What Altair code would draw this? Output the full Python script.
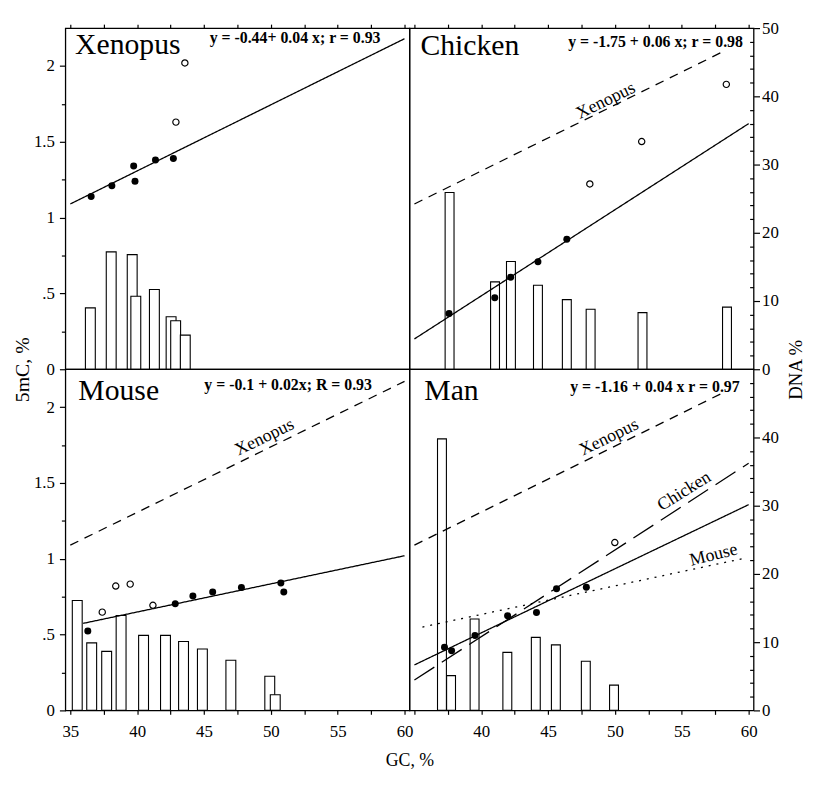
import altair as alt
import pandas as pd

FONT = "Liberation Serif"
W, H = 348, 345

# ---------------- data ----------------
GC_TICKS = [35, 37.5, 40, 42.5, 45, 47.5, 50, 52.5, 55, 57.5, 60]
MC_TICKS = [0, 0.25, 0.5, 0.75, 1, 1.25, 1.5, 1.75, 2]
DNA_TICKS_TOP = list(range(0, 51, 2))
DNA_TICKS_BOTTOM = list(range(0, 49, 2))

PANEL_NAMES = ["Xenopus", "Chicken", "Mouse", "Man"]
EQUATIONS = ["y = -0.44+ 0.04 x; r = 0.93",
             "y = -1.75 + 0.06 x; r = 0.98",
             "y = -0.1 + 0.02x; R = 0.93",
             "y = -1.16 + 0.04 x r = 0.97"]
TITLE_GC = [35.36, 35.45, 35.6, 35.74]
TITLE_Y = [2.08, 2.07, 2.05, 2.05]
EQ_GC = [58.2, 59.57, 57.56, 59.33]
EQ_Y = [2.15, 2.127, 2.113, 2.10]

# Xenopus
XEN_BAR_GC = [36.5, 38.06, 39.63, 39.9, 41.29, 42.54, 42.88, 43.6]
XEN_BAR_DNA = [9.0, 17.2, 16.8, 10.7, 11.7, 7.7, 7.1, 5.0]
XEN_FILL_GC = [36.56, 38.11, 39.74, 39.84, 41.37, 42.71]
XEN_FILL_MC = [1.14, 1.21, 1.34, 1.24, 1.38, 1.39]
XEN_OPEN_GC = [43.57, 42.90]
XEN_OPEN_MC = [2.02, 1.63]
XEN_FIT_GC = [35, 60]
XEN_FIT_MC = [1.09, 2.18]

# Chicken
CHI_BAR_GC = [37.63, 41.03, 42.22, 44.24, 46.4, 48.18, 52.06, 58.38]
CHI_BAR_DNA = [25.9, 12.8, 15.8, 12.3, 10.2, 8.8, 8.3, 9.1]
CHI_FILL_GC = [37.59, 41.01, 42.2, 44.24, 46.4]
CHI_FILL_MC = [0.367, 0.472, 0.607, 0.709, 0.857]
CHI_OPEN_GC = [48.12, 52.0, 58.33]
CHI_OPEN_MC = [1.222, 1.502, 1.879]
CHI_FIT_GC = [35, 60]
CHI_FIT_MC = [0.20, 1.62]
CHI_XEN_GC = [35, 58.2]
CHI_XEN_MC = [1.09, 2.10]

# Mouse
MOU_BAR_GC = [35.52, 36.6, 37.72, 38.8, 40.48, 42.12, 43.47, 44.88, 47.01, 49.92, 50.33]
MOU_BAR_DNA = [16.1, 9.9, 8.65, 13.9, 11.0, 11.0, 10.1, 9.0, 7.35, 5.0, 2.3]
MOU_FILL_GC = [36.31, 42.85, 44.17, 45.65, 47.8, 50.75, 50.97]
MOU_FILL_MC = [0.524, 0.704, 0.755, 0.781, 0.811, 0.841, 0.781]
MOU_OPEN_GC = [37.39, 38.4, 39.48, 41.18]
MOU_OPEN_MC = [0.648, 0.820, 0.833, 0.693]
MOU_FIT_GC = [35.96, 60]
MOU_FIT_MC = [0.574, 1.02]
MOU_XEN_GC = [35, 60]
MOU_XEN_MC = [1.09, 2.17]

# Man
MAN_BAR_GC = [37.06, 37.74, 39.5, 41.95, 44.08, 45.58, 47.82, 49.93]
MAN_BAR_DNA = [39.8, 5.1, 13.4, 8.5, 10.7, 9.6, 7.2, 3.7]
MAN_FILL_GC = [37.25, 37.78, 39.53, 41.97, 44.13, 45.63, 47.86]
MAN_FILL_MC = [0.416, 0.393, 0.494, 0.624, 0.646, 0.802, 0.813]
MAN_OPEN_GC = [49.99]
MAN_OPEN_MC = [1.107]
MAN_FIT_GC = [35, 60]
MAN_FIT_MC = [0.30, 1.357]
MAN_XEN_GC = [35, 58.2]
MAN_XEN_MC = [1.09, 2.10]
MAN_CHI_GC = [35, 60]
MAN_CHI_MC = [0.20, 1.63]
MAN_MOU_GC = [35.6, 59.5]
MAN_MOU_MC = [0.55, 1.0]

# line-label annotations: text, gc, 5mC
CHI_LABELS = [("Xenopus", 49.32, 1.77)]
MOU_LABELS = [("Xenopus", 49.53, 1.80)]
MAN_LABELS = [("Xenopus", 49.56, 1.80), ("Chicken", 55.19, 1.444), ("Mouse", 57.38, 1.024)]

# ---------------- styles ----------------
DASH = {"fit": [1, 0], "Xenopus": [9, 7], "Chicken": [24, 9], "Mouse": [2, 6]}
LABEL_ANGLE = {"Xenopus": 334, "Chicken": 328, "Mouse": 346}

X_SCALE = alt.Scale(domain=[35, 60], nice=False, zero=False)
Y_SCALE = alt.Scale(domain=[0, 2.25], nice=False, zero=False)
D_SCALE = alt.Scale(domain=[0, 50], nice=False, zero=False)


def x_axis(row, col):
    if row == 0:
        return alt.Axis(orient="top", values=GC_TICKS, labels=False, tickSize=4,
                        domain=False, title=None, grid=False)
    if col == 0:
        expr = "datum.value % 5 == 0 ? '' + datum.value : ''"
        return alt.Axis(orient="bottom", values=GC_TICKS, labelExpr=expr, tickSize=4,
                        labelPadding=9, domain=False, grid=False, title="GC, %",
                        titleX=W, titleY=51, titleAlign="center", titleBaseline="middle",
                        titleFontSize=18)
    expr = "datum.value % 5 == 0 && datum.value > 35 ? '' + datum.value : ''"
    return alt.Axis(orient="bottom", values=GC_TICKS, labelExpr=expr, tickSize=4,
                    labelPadding=9, domain=False, grid=False, title=None)


def y_axis(row, col):
    if col == 1:
        return None
    expr = "datum.value == 0.5 ? '.5' : (datum.value % 0.5 == 0 ? '' + datum.value : '')"
    kw = dict(orient="left", values=MC_TICKS, labelExpr=expr,
              tickSize={"condition": {"test": "datum.value % 0.5 == 0", "value": 6}, "value": 4},
              labelPadding=5, domain=False, grid=False, labelBaseline="middle")
    if row == 0:
        kw.update(title="5mC, %", titleAngle=270, titleX=-43, titleY=H,
                  titleAlign="center", titleBaseline="middle")
    else:
        kw.update(title=None)
    return alt.Axis(**kw)


def d_axis(row, col):
    if col == 0:
        return None
    vals = DNA_TICKS_TOP if row == 0 else DNA_TICKS_BOTTOM
    kw = dict(orient="right", values=vals,
              labelExpr="datum.value % 10 == 0 ? '' + datum.value : ''",
              tickSize={"condition": {"test": "datum.value % 10 == 0", "value": 6}, "value": -4},
              labelPadding=2, domain=False, grid=False, labelBaseline="middle")
    if row == 0:
        kw.update(title="DNA %", titleAngle=270, titleX=42, titleY=H,
                  titleAlign="center", titleBaseline="middle", titleFontSize=19)
    else:
        kw.update(title=None)
    return alt.Axis(**kw)


def make_panel(idx, row, col, bar_gc, bar_dna, fill_gc, fill_mc, open_gc, open_mc,
               lines, labels, bar_size):
    xa = x_axis(row, col)
    ya = y_axis(row, col)
    X = alt.X("gc:Q", scale=X_SCALE, axis=xa)
    Y = alt.Y("y:Q", scale=Y_SCALE, axis=ya)

    bars = alt.Chart(pd.DataFrame({"gc": bar_gc, "dna": bar_dna})).mark_bar(
        size=bar_size, fill="white", stroke="black", strokeWidth=1.1
    ).encode(x=X, y=alt.Y("dna:Q", scale=D_SCALE, axis=d_axis(row, col)))

    inner = []
    for name, gcs, mcs in lines:
        inner.append(
            alt.Chart(pd.DataFrame({"gc": gcs, "y": mcs})).mark_line(
                color="black", strokeWidth=1.3, strokeDash=DASH[name]
            ).encode(x=X, y=Y)
        )
    inner.append(
        alt.Chart(pd.DataFrame({"gc": fill_gc, "y": fill_mc})).mark_point(
            shape="circle", filled=True, color="black", size=50, opacity=1
        ).encode(x=X, y=Y)
    )
    inner.append(
        alt.Chart(pd.DataFrame({"gc": open_gc, "y": open_mc})).mark_point(
            shape="circle", filled=True, fill="white", stroke="black",
            strokeWidth=1.2, size=40, opacity=1
        ).encode(x=X, y=Y)
    )
    inner.append(
        alt.Chart(pd.DataFrame({"gc": [TITLE_GC[idx]], "y": [TITLE_Y[idx]],
                                "t": [PANEL_NAMES[idx]]})).mark_text(
            align="left", baseline="alphabetic", font=FONT, fontSize=30, color="black"
        ).encode(x=X, y=Y, text="t:N")
    )
    inner.append(
        alt.Chart(pd.DataFrame({"gc": [EQ_GC[idx]], "y": [EQ_Y[idx]],
                                "t": [EQUATIONS[idx]]})).mark_text(
            align="right", baseline="alphabetic", font=FONT, fontSize=16,
            fontWeight="bold", color="black"
        ).encode(x=X, y=Y, text="t:N")
    )
    for txt, g, m in labels:
        inner.append(
            alt.Chart(pd.DataFrame({"gc": [g], "y": [m], "t": [txt]})).mark_text(
                align="center", baseline="middle", font=FONT, fontSize=18,
                color="black", angle=LABEL_ANGLE[txt]
            ).encode(x=X, y=Y, text="t:N")
        )

    return alt.layer(bars, alt.layer(*inner)).resolve_scale(y="independent").properties(
        width=W, height=H)


p_xen = make_panel(0, 0, 0, XEN_BAR_GC, XEN_BAR_DNA, XEN_FILL_GC, XEN_FILL_MC,
                   XEN_OPEN_GC, XEN_OPEN_MC, [("fit", XEN_FIT_GC, XEN_FIT_MC)], [], 10)
p_chi = make_panel(1, 0, 1, CHI_BAR_GC, CHI_BAR_DNA, CHI_FILL_GC, CHI_FILL_MC,
                   CHI_OPEN_GC, CHI_OPEN_MC,
                   [("Xenopus", CHI_XEN_GC, CHI_XEN_MC), ("fit", CHI_FIT_GC, CHI_FIT_MC)],
                   CHI_LABELS, 9)
p_mou = make_panel(2, 1, 0, MOU_BAR_GC, MOU_BAR_DNA, MOU_FILL_GC, MOU_FILL_MC,
                   MOU_OPEN_GC, MOU_OPEN_MC,
                   [("Xenopus", MOU_XEN_GC, MOU_XEN_MC), ("fit", MOU_FIT_GC, MOU_FIT_MC)],
                   MOU_LABELS, 10)
p_man = make_panel(3, 1, 1, MAN_BAR_GC, MAN_BAR_DNA, MAN_FILL_GC, MAN_FILL_MC,
                   MAN_OPEN_GC, MAN_OPEN_MC,
                   [("Xenopus", MAN_XEN_GC, MAN_XEN_MC), ("Chicken", MAN_CHI_GC, MAN_CHI_MC),
                    ("Mouse", MAN_MOU_GC, MAN_MOU_MC), ("fit", MAN_FIT_GC, MAN_FIT_MC)],
                   MAN_LABELS, 9)

chart = alt.concat(p_xen, p_chi, p_mou, p_man, columns=2, spacing=0, bounds="flush").properties(
    padding={"left": 4, "top": 6, "right": 0, "bottom": 0},
    background="white",
).configure_view(
    stroke="black", strokeWidth=1.3
).configure_axis(
    domainColor="black", tickColor="black", labelColor="black", titleColor="black",
    labelFont=FONT, titleFont=FONT, labelFontSize=17, titleFontSize=20,
    titleFontWeight="normal", tickWidth=1.2, grid=False
)

chart.save("out.html", embed_options={"renderer": "svg", "actions": False})
